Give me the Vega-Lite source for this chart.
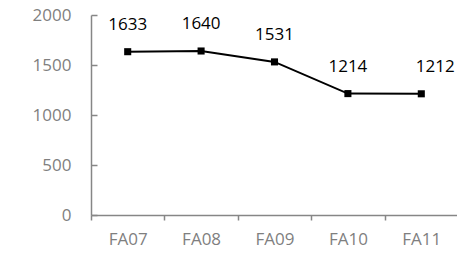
{
  "$schema": "https://vega.github.io/schema/vega-lite/v6.json",
  "width": 367,
  "height": 200,
  "autosize": {"type": "none"},
  "padding": {"left": 91, "top": 15, "right": 0, "bottom": 39},
  "background": "white",
  "config": {"view": {"stroke": null}, "font": "Open Sans"},
  "data": {"values": [
    {"term": "FA07", "count": 1633},
    {"term": "FA08", "count": 1640},
    {"term": "FA09", "count": 1531},
    {"term": "FA10", "count": 1214},
    {"term": "FA11", "count": 1212}
  ]},
  "encoding": {
    "x": {"field": "term", "type": "nominal", "sort": null,
      "scale": {"type": "band", "paddingInner": 0, "paddingOuter": 0},
      "axis": {"title": null, "labelAngle": 0, "tickBand": "extent", "grid": false,
        "domainColor": "#868686", "domainWidth": 1.5, "tickColor": "#868686", "tickWidth": 1.5, "tickSize": 5,
        "labelColor": "#7f7f7f", "labelFont": "Open Sans", "labelFontSize": 17, "labelPadding": 11}}
  },
  "layer": [
    {"mark": {"type": "line", "color": "black", "strokeWidth": 2},
      "encoding": {"y": {"field": "count", "type": "quantitative",
        "scale": {"domain": [0, 2000], "nice": false},
        "axis": {"title": null, "values": [0, 500, 1000, 1500, 2000], "format": "d", "grid": false, "orient": "left",
          "domainColor": "#868686", "domainWidth": 1.5, "ticks": false,
          "labelColor": "#7f7f7f", "labelFont": "Open Sans", "labelFontSize": 17, "labelPadding": 20}}}},
    {"mark": {"type": "point", "shape": "square", "filled": true, "color": "black", "size": 50, "opacity": 1},
      "encoding": {"y": {"field": "count", "type": "quantitative",
        "axis": {"title": null, "values": [0, 500, 1000, 1500, 2000], "grid": false, "orient": "left", "offset": -6,
          "domain": false, "labels": false, "tickColor": "#868686", "tickWidth": 1.5, "tickSize": 6}}}},
    {"transform": [{"filter": "datum.term != 'FA11'"}],
      "mark": {"type": "text", "dy": -27, "fontSize": 17, "font": "Open Sans", "color": "black"},
      "encoding": {"y": {"field": "count", "type": "quantitative", "axis": null}, "text": {"field": "count", "type": "quantitative"}}},
    {"transform": [{"filter": "datum.term == 'FA11'"}],
      "mark": {"type": "text", "dy": -27, "dx": 14, "fontSize": 17, "font": "Open Sans", "color": "black"},
      "encoding": {"y": {"field": "count", "type": "quantitative", "axis": null}, "text": {"field": "count", "type": "quantitative"}}}
  ],
  "resolve": {"axis": {"y": "independent"}}
}
